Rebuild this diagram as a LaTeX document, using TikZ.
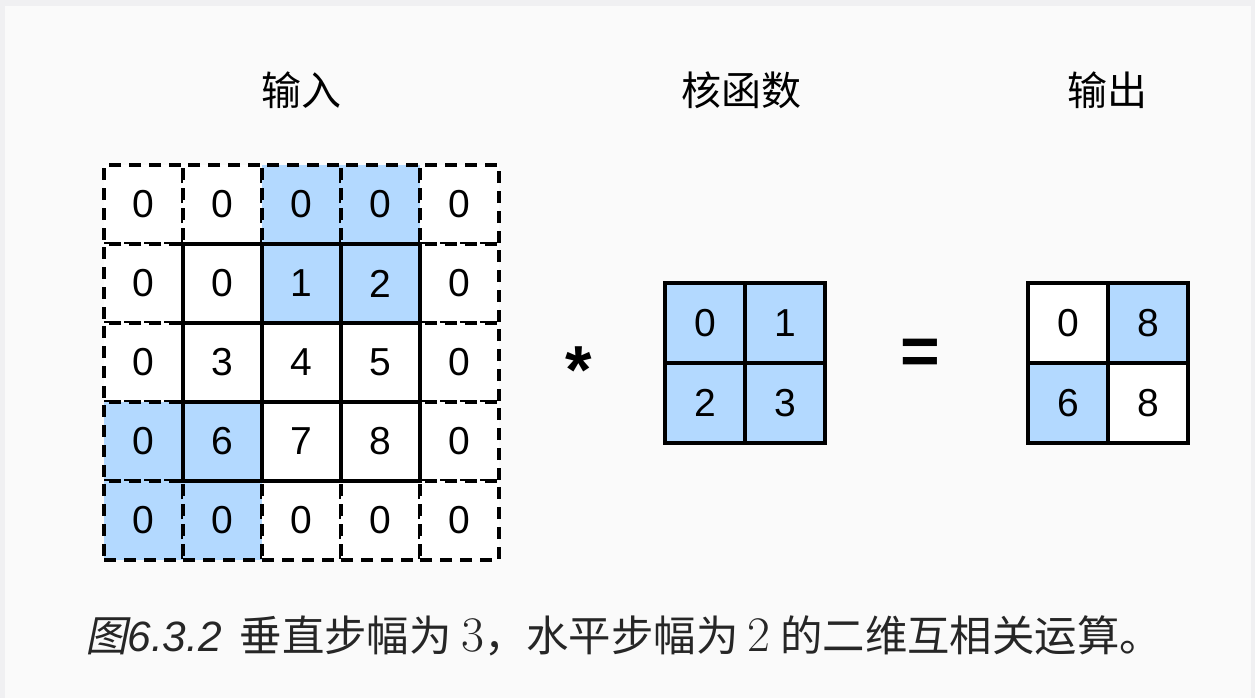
\documentclass[tikz,border=0pt]{standalone}
\usepackage{fontspec}
\setmainfont{Liberation Sans}
\newfontfamily\cjk{Noto Sans CJK SC}
\newfontfamily\cjkslant{Noto Sans CJK SC}[FakeSlant=0.2]
\definecolor{cellblue}{HTML}{B3D9FF}
\definecolor{bgpaper}{HTML}{FAFAFA}
\definecolor{bgframe}{HTML}{F0F0F2}
\tikzset{
  cell/.style={draw, line width=1.6pt, minimum size=39.5pt, inner sep=0pt,
    font=\fontsize{19.5}{20}\selectfont},
  pad/.style={cell, dash pattern=on 6pt off 4pt},
  hot/.style={fill=cellblue},
  blank/.style={fill=white},
  title/.style={font=\cjk\fontsize{20}{22}\selectfont},
  opsign/.style={font=\bfseries\fontsize{34}{34}\selectfont},
}
\begin{document}
\begin{tikzpicture}[x=0.5pt,y=-0.5pt]
  \fill[bgframe] (0,0) rectangle (1255,698);
  \fill[bgpaper] (5,6) rectangle (1251,698);
  \useasboundingbox (0,0) rectangle (1255,698);
  % input, padded border first
  \foreach \r/\c/\s in {0/0/blank,0/1/blank,0/2/hot,0/3/hot,0/4/blank,1/0/blank,1/4/blank,
      2/0/blank,2/4/blank,3/0/hot,3/4/blank,4/0/hot,4/1/hot,4/2/blank,4/3/blank,4/4/blank}
    \node[pad,\s] (in-\r-\c) at (143.5+79*\c,204.5+79*\r) {0};
  \foreach \r/\c/\v/\s in {1/1/0/blank,1/2/1/hot,1/3/2/hot,2/1/3/blank,2/2/4/blank,
      2/3/5/blank,3/1/6/hot,3/2/7/blank,3/3/8/blank}
    \node[cell,\s] (in-\r-\c) at (143.5+79*\c,204.5+79*\r) {\v};
  % kernel
  \foreach \r/\c/\v in {0/0/0,0/1/1,1/0/2,1/1/3}
    \node[cell,hot,minimum size=40pt] (ker-\r-\c) at (705+80*\c,323+80*\r) {\v};
  % output
  \foreach \r/\c/\v/\s in {0/0/0/blank,0/1/8/hot,1/0/6/hot,1/1/8/blank}
    \node[cell,\s,minimum size=40pt] (out-\r-\c) at (1068+80*\c,323+80*\r) {\v};
  \node[opsign] (op-mul) at (579,370) {*};
  \node[opsign] (op-eq) at (920,357) {=};
  \node[title] (t-in) at (301,90) {输入};
  \node[title] (t-ker) at (741,90) {核函数};
  \node[title] (t-out) at (1107,90) {输出};
  \node[anchor=west,text=black!85,font=\cjk\fontsize{21.2}{23}\selectfont] (cap) at (78,636)
    {{\cjkslant 图}{\itshape\rmfamily 6.3.2}\hspace{9pt}垂直步幅为 {\fontsize{23}{24}\selectfont$3$}，水平步幅为
     {\fontsize{23}{24}\selectfont$2$} 的二维互相关运算。};
\end{tikzpicture}
\end{document}
